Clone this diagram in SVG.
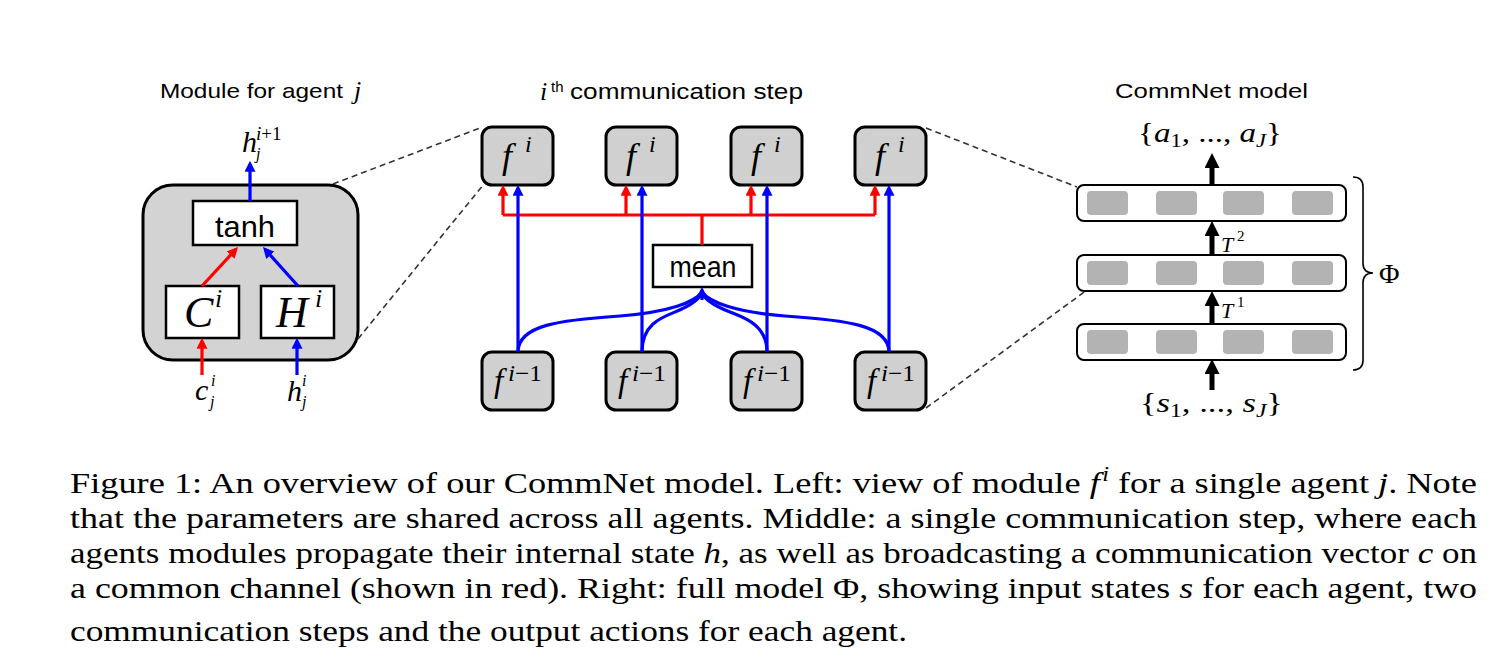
<svg xmlns="http://www.w3.org/2000/svg" width="1510" height="670" viewBox="0 0 1510 670">
<style>
.sans{font-family:"Liberation Sans",Arial,sans-serif;fill:#000}
.serif{font-family:"Liberation Serif","Times New Roman",serif;fill:#000}
.it{font-style:italic}
.up{font-style:normal}
.fbox{fill:#d0d0d0;stroke:#000;stroke-width:3}
.mod{fill:#d3d3d3;stroke:#000;stroke-width:3}
.wbox{fill:#fff;stroke:#000;stroke-width:2.5}
.red{stroke:#ff0000;stroke-width:3.2;fill:none}
.blue{stroke:#0000ff;stroke-width:3.2;fill:none}
.blk{stroke:#000;stroke-width:5;fill:none}
.dash{stroke:#333;stroke-width:1.6;stroke-dasharray:6 4;fill:none}
.bar{fill:#fff;stroke:#000;stroke-width:2}
.cell{fill:#b3b3b3}
.cap{font-size:30px}
</style>
<defs>
<marker id="mr" viewBox="0 0 10 10" refX="7" refY="5" markerWidth="11" markerHeight="11" markerUnits="userSpaceOnUse" orient="auto"><path d="M0,0L10,5L0,10z" fill="#ff0000"/></marker>
<marker id="mb" viewBox="0 0 10 10" refX="7" refY="5" markerWidth="11" markerHeight="11" markerUnits="userSpaceOnUse" orient="auto"><path d="M0,0L10,5L0,10z" fill="#0000ff"/></marker>
<marker id="mk" viewBox="0 0 10 10" refX="6" refY="5" markerWidth="15" markerHeight="15" markerUnits="userSpaceOnUse" orient="auto"><path d="M0,0L10,5L0,10z" fill="#000"/></marker>
</defs>
<rect width="1510" height="670" fill="#fff"/>

<!-- titles -->
<g id="titles">
<text class="sans" x="160" y="98" font-size="21" textLength="183" lengthAdjust="spacingAndGlyphs">Module for agent</text>
<text class="serif it" x="354" y="99" font-size="26">j</text>
<text class="serif it" x="540" y="100" font-size="26">i</text>
<text class="sans" x="551" y="92" font-size="15">th</text>
<text class="sans" x="570" y="99" font-size="22" textLength="233" lengthAdjust="spacingAndGlyphs">communication step</text>
<text class="sans" x="1115" y="98" font-size="21" textLength="193" lengthAdjust="spacingAndGlyphs">CommNet model</text>
</g>

<!-- left module -->
<g id="module-j">
<rect class="mod" x="143" y="185" width="215" height="175" rx="30"/>
</g>
<g id="tanh">
<rect class="wbox" x="193" y="201" width="104" height="44"/>
<text class="sans" x="245" y="237" font-size="29" text-anchor="middle" textLength="60" lengthAdjust="spacingAndGlyphs">tanh</text>
</g>
<g id="C">
<rect class="wbox" x="166" y="286" width="73" height="52"/>
<text class="serif it" x="184" y="327" font-size="44">C<tspan x="215" y="307" font-size="26">i</tspan></text>
</g>
<g id="H">
<rect class="wbox" x="261" y="286" width="73" height="52"/>
<text class="serif it" x="276" y="327" font-size="44">H<tspan x="315" y="307" font-size="26">i</tspan></text>
</g>
<g id="label-h-out">
<text class="serif it" x="242" y="152" font-size="30">h<tspan x="256" y="140" font-size="19">i<tspan class="up">+1</tspan></tspan><tspan x="256" y="159" font-size="16">j</tspan></text>
</g>
<g id="label-c-in">
<text class="serif it" x="195" y="400" font-size="30">c<tspan x="211" y="386" font-size="16">i</tspan><tspan x="210" y="407" font-size="16">j</tspan></text>
</g>
<g id="label-h-in">
<text class="serif it" x="287" y="401" font-size="30">h<tspan x="302" y="386" font-size="16">i</tspan><tspan x="302" y="407" font-size="16">j</tspan></text>
</g>

<!-- middle: f^i -->
<g id="fi-1">
<rect class="fbox" x="482" y="127" width="71" height="58" rx="10"/>
<text class="serif it" x="502" y="168" font-size="36">f<tspan x="525" y="152" font-size="24">i</tspan></text>
</g>
<g id="fi-2">
<rect class="fbox" x="606" y="127" width="71" height="58" rx="10"/>
<text class="serif it" x="626" y="168" font-size="36">f<tspan x="649" y="152" font-size="24">i</tspan></text>
</g>
<g id="fi-3">
<rect class="fbox" x="731" y="127" width="71" height="58" rx="10"/>
<text class="serif it" x="751" y="168" font-size="36">f<tspan x="774" y="152" font-size="24">i</tspan></text>
</g>
<g id="fi-4">
<rect class="fbox" x="855" y="127" width="71" height="58" rx="10"/>
<text class="serif it" x="875" y="168" font-size="36">f<tspan x="898" y="152" font-size="24">i</tspan></text>
</g>
<g id="mean">
<rect class="wbox" x="653" y="245" width="99" height="42"/>
<text class="sans" x="703" y="277" font-size="29" text-anchor="middle" textLength="67" lengthAdjust="spacingAndGlyphs">mean</text>
</g>
<g id="fprev-1">
<rect class="fbox" x="482" y="352" width="71" height="58" rx="10"/>
<text class="serif it" x="494" y="392" font-size="33">f</text><text class="serif it" x="508" y="381" font-size="23" textLength="34" lengthAdjust="spacingAndGlyphs">i<tspan class="up">−1</tspan></text>
</g>
<g id="fprev-2">
<rect class="fbox" x="606" y="352" width="71" height="58" rx="10"/>
<text class="serif it" x="618" y="392" font-size="33">f</text><text class="serif it" x="632" y="381" font-size="23" textLength="34" lengthAdjust="spacingAndGlyphs">i<tspan class="up">−1</tspan></text>
</g>
<g id="fprev-3">
<rect class="fbox" x="731" y="352" width="71" height="58" rx="10"/>
<text class="serif it" x="743" y="392" font-size="33">f</text><text class="serif it" x="757" y="381" font-size="23" textLength="34" lengthAdjust="spacingAndGlyphs">i<tspan class="up">−1</tspan></text>
</g>
<g id="fprev-4">
<rect class="fbox" x="855" y="352" width="71" height="58" rx="10"/>
<text class="serif it" x="867" y="392" font-size="33">f</text><text class="serif it" x="881" y="381" font-size="23" textLength="34" lengthAdjust="spacingAndGlyphs">i<tspan class="up">−1</tspan></text>
</g>

<!-- right: CommNet model -->
<g id="layer-out">
<rect class="bar" x="1077" y="185" width="269" height="36" rx="7"/>
<rect class="cell" x="1087" y="191" width="41" height="24" rx="4"/>
<rect class="cell" x="1156" y="191" width="41" height="24" rx="4"/>
<rect class="cell" x="1223" y="191" width="41" height="24" rx="4"/>
<rect class="cell" x="1292" y="191" width="41" height="24" rx="4"/>
</g>
<g id="layer-mid">
<rect class="bar" x="1077" y="255" width="269" height="36" rx="7"/>
<rect class="cell" x="1087" y="261" width="41" height="24" rx="4"/>
<rect class="cell" x="1156" y="261" width="41" height="24" rx="4"/>
<rect class="cell" x="1223" y="261" width="41" height="24" rx="4"/>
<rect class="cell" x="1292" y="261" width="41" height="24" rx="4"/>
</g>
<g id="layer-in">
<rect class="bar" x="1077" y="324" width="269" height="36" rx="7"/>
<rect class="cell" x="1087" y="330" width="41" height="24" rx="4"/>
<rect class="cell" x="1156" y="330" width="41" height="24" rx="4"/>
<rect class="cell" x="1223" y="330" width="41" height="24" rx="4"/>
<rect class="cell" x="1292" y="330" width="41" height="24" rx="4"/>
</g>
<g id="outputs">
<text class="serif" x="1138" y="142" font-size="28" textLength="144" lengthAdjust="spacingAndGlyphs">{<tspan class="it">a</tspan><tspan font-size="19" dy="5">1</tspan><tspan dy="-5">, ..., </tspan><tspan class="it">a</tspan><tspan class="it" font-size="19" dy="5">J</tspan><tspan dy="-5">}</tspan></text>
</g>
<g id="inputs">
<text class="serif" x="1140" y="412" font-size="28" textLength="143" lengthAdjust="spacingAndGlyphs">{<tspan class="it">s</tspan><tspan font-size="19" dy="5">1</tspan><tspan dy="-5">, ..., </tspan><tspan class="it">s</tspan><tspan class="it" font-size="19" dy="5">J</tspan><tspan dy="-5">}</tspan></text>
</g>
<g id="phi">
<path d="M1353,177 Q1363,177 1363,187 L1363,263 Q1363,273 1373,273 Q1363,273 1363,283 L1363,360 Q1363,370 1353,370" fill="none" stroke="#000" stroke-width="1.6"/>
<text class="serif" x="1379" y="283" font-size="28">Φ</text>
</g>
<g id="T-labels">
<text class="serif it" x="1221" y="252" font-size="22">T<tspan class="up" x="1237" y="241" font-size="15">2</tspan></text>
<text class="serif it" x="1221" y="318" font-size="22">T<tspan class="up" x="1237" y="307" font-size="15">1</tspan></text>
</g>

<!-- connectors -->
<g id="connectors">
<path class="blue" d="M250,201 V164" marker-end="url(#mb)"/>
<path class="red" d="M202,286 L235.8,249.4" marker-end="url(#mr)"/>
<path class="blue" d="M298,286 L265.2,249.5" marker-end="url(#mb)"/>
<path class="red" d="M202,375 V341" marker-end="url(#mr)"/>
<path class="blue" d="M297,375 V341" marker-end="url(#mb)"/>

<path class="red" d="M503,215 H875"/>
<path class="red" d="M702,245 V215"/>
<path class="red" d="M503,215 V188" marker-end="url(#mr)"/>
<path class="red" d="M626,215 V188" marker-end="url(#mr)"/>
<path class="red" d="M751,215 V188" marker-end="url(#mr)"/>
<path class="red" d="M875,215 V188" marker-end="url(#mr)"/>

<path class="blue" d="M518,352 V188" marker-end="url(#mb)"/>
<path class="blue" d="M642,352 V188" marker-end="url(#mb)"/>
<path class="blue" d="M767,352 V188" marker-end="url(#mb)"/>
<path class="blue" d="M889,352 V188" marker-end="url(#mb)"/>

<path class="blue" d="M518,352 C518,325 560,320 620,316 C670,312 695,302 702,292"/>
<path class="blue" d="M642,352 C642,325 660,318 675,312 C692,305 700,299 702,292"/>
<path class="blue" d="M767,352 C767,325 745,318 730,312 C712,305 704,299 702,292"/>
<path class="blue" d="M889,352 C889,325 845,320 785,316 C735,312 709,302 702,292"/>
<path class="blue" d="M702,300 V290" marker-end="url(#mb)"/>

<path class="blk" d="M1212,185 V159" marker-end="url(#mk)"/>
<path class="blk" d="M1212,255 V227" marker-end="url(#mk)"/>
<path class="blk" d="M1212,324 V297" marker-end="url(#mk)"/>
<path class="blk" d="M1212,390 V365" marker-end="url(#mk)"/>
</g>

<g id="zoom-lines">
<path class="dash" d="M333,184 L480,128"/>
<path class="dash" d="M358,339 L484,184"/>
<path class="dash" d="M926,128 L1077,187"/>
<path class="dash" d="M926,408 L1087,290"/>
</g>

<!-- caption -->
<g id="caption">
<text class="serif cap" x="70" y="493" textLength="1407" lengthAdjust="spacingAndGlyphs">Figure 1: An overview of our CommNet model. Left: view of module <tspan class="it">f</tspan><tspan class="it" font-size="20" dx="2" dy="-12">i</tspan><tspan dy="12"> for a single agent </tspan><tspan class="it">j</tspan>. Note</text>
<text class="serif cap" x="70" y="528" textLength="1407" lengthAdjust="spacingAndGlyphs">that the parameters are shared across all agents. Middle: a single communication step, where each</text>
<text class="serif cap" x="70" y="563" textLength="1407" lengthAdjust="spacingAndGlyphs">agents modules propagate their internal state <tspan class="it">h</tspan>, as well as broadcasting a communication vector <tspan class="it">c</tspan> on</text>
<text class="serif cap" x="70" y="598" textLength="1407" lengthAdjust="spacingAndGlyphs">a common channel (shown in red). Right: full model Φ, showing input states <tspan class="it">s</tspan> for each agent, two</text>
<text class="serif cap" x="70" y="641" textLength="837" lengthAdjust="spacingAndGlyphs">communication steps and the output actions for each agent.</text>
</g>
</svg>
